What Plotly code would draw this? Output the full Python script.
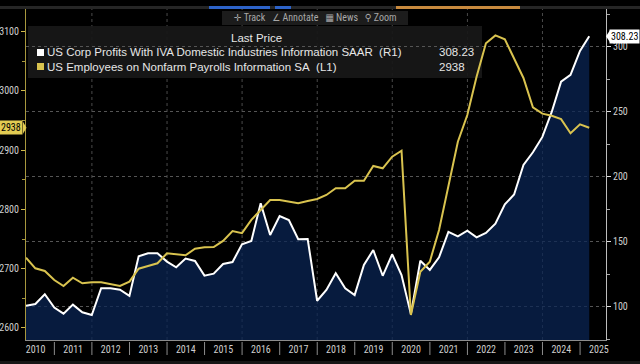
import plotly.graph_objects as go

# ---------------- data (quarter-end values, Q1 2010 .. Q1 2025) ----------------
profits = [101.0, 102.3, 109.8, 99.5, 94.9, 101.8, 95.9, 93.8,
           114.4, 114.4, 113.3, 108.5, 139.0, 141.3, 141.3, 134.9,
           130.5, 137.2, 135.4, 124.1, 125.6, 133.1, 134.6, 148.2,
           150.8, 179.8, 155.4, 170.0, 166.9, 152.1, 152.3, 104.8,
           113.1, 125.9, 114.4, 109.2, 132.3, 143.8, 124.0, 140.5,
           124.6, 94.5, 135.6, 128.5, 138.2, 157.8, 154.3, 158.7,
           153.5, 157.0, 164.1, 179.0, 186.5, 209.2, 219.0, 230.8,
           250.0, 273.3, 278.5, 297.0, 308.23]
employees = [2718.7, 2700.7, 2696.2, 2681.0, 2670.9, 2684.9, 2675.4, 2677.1,
             2677.1, 2674.3, 2670.9, 2678.2, 2700.0, 2704.6, 2709.2, 2726.0,
             2724.4, 2722.7, 2733.9, 2736.2, 2736.5, 2747.0, 2763.7, 2760.0,
             2782.5, 2799.2, 2816.0, 2816.0, 2813.2, 2810.5, 2814.4, 2817.7,
             2824.5, 2835.8, 2835.8, 2848.6, 2848.6, 2873.4, 2869.5, 2889.1,
             2899.2, 2621.9, 2695.0, 2711.9, 2765.4, 2838.5, 2914.4, 2959.5,
             3024.1, 3080.5, 3093.8, 3087.3, 3055.0, 3022.0, 2972.5, 2961.8,
             2958.3, 2952.5, 2928.6, 2943.8, 2938.0]
quarter_ends = ["03-31", "06-30", "09-30", "12-31"]
dates = [f"{y}-{md}" for y in range(2010, 2026) for md in quarter_ends][:len(profits)]
year_starts = [f"{y}-01-01" for y in range(2011, 2026)]
grid_years = [f"{y}-01-01" for y in range(2012, 2025, 2)]

profit_name = "US Corp Profits With IVA Domestic Industries Information SAAR"
emp_name = "US Employees on Nonfarm Payrolls Information SA"
profit_last = "308.23"
emp_last = "2938"

# ---------------- styling ----------------
YELLOW = "#d9c34f"
NARROW = "Liberation Sans Narrow, Roboto Condensed, DejaVu Sans Condensed, Liberation Sans, sans-serif"
REG = "Liberation Sans, Arial, sans-serif"
L, R, T, B, W, H = 26, 34, 9, 24, 640, 364
PW, PH = W - L - R, H - T - B
LRANGE = [2579.7, 3138.4]
RRANGE = [74.6, 329.2]


def px_x(x):
    return (x - L) / PW


def px_y(y):
    return (H - B - y) / PH


fig = go.Figure()
fig.add_trace(go.Scatter(x=dates, y=profits, yaxis="y", mode="lines",
                         line=dict(color="#ffffff", width=2),
                         fill="tozeroy", fillcolor="rgba(10,36,84,0.74)",
                         hoverinfo="skip"))
fig.add_trace(go.Scatter(x=dates, y=employees, yaxis="y2", mode="lines",
                         line=dict(color=YELLOW, width=2), hoverinfo="skip"))

shapes = []
# vertical dotted grid every two years
for d in grid_years:
    shapes.append(dict(type="line", xref="x", yref="paper", x0=d, x1=d,
                       y0=0, y1=1, line=dict(color="#4a4a4a", width=1, dash="dot"), layer="between"))
# year separators under the axis
for d in year_starts:
    shapes.append(dict(type="line", xref="x", yref="paper", x0=d, x1=d,
                       y0=px_y(342), y1=px_y(355), line=dict(color="#8c8c8c", width=1)))
# legend box
shapes.append(dict(type="rect", xref="paper", yref="paper", x0=px_x(28), x1=px_x(482),
                   y0=px_y(78), y1=px_y(26), fillcolor="rgba(24,24,24,0.93)",
                   line=dict(width=0), layer="between"))
# legend squares
shapes.append(dict(type="rect", xref="paper", yref="paper", x0=px_x(37), x1=px_x(44),
                   y0=px_y(56), y1=px_y(49), fillcolor="#ffffff", line=dict(width=0)))
shapes.append(dict(type="rect", xref="paper", yref="paper", x0=px_x(37), x1=px_x(44),
                   y0=px_y(70), y1=px_y(63), fillcolor=YELLOW, line=dict(width=0)))
# toolbar
shapes.append(dict(type="rect", xref="paper", yref="paper", x0=px_x(222), x1=px_x(408),
                   y0=px_y(25), y1=px_y(11), fillcolor="#1c1c1c", line=dict(width=0)))
# top status bar
shapes.append(dict(type="line", xref="paper", yref="paper", x0=px_x(0), x1=px_x(640),
                   y0=px_y(7.5), y1=px_y(7.5), line=dict(color="#262626", width=3)))
for x0, x1, c in [(209, 270, "#2d63c8"), (275, 291, "#2d63c8"), (396, 520, "#c98a3e")]:
    shapes.append(dict(type="line", xref="paper", yref="paper", x0=px_x(x0), x1=px_x(x1),
                       y0=px_y(7.5), y1=px_y(7.5), line=dict(color=c, width=3)))
# bottom strip
shapes.append(dict(type="rect", xref="paper", yref="paper", x0=px_x(0), x1=px_x(640),
                   y0=px_y(364), y1=px_y(361), fillcolor="#161616", line=dict(width=0)))

# last-value flag pointers
ly = H - B - (float(emp_last) - LRANGE[0]) / (LRANGE[1] - LRANGE[0]) * PH
shapes.append(dict(type="path", xref="paper", yref="paper",
                   path=f"M {px_x(23)} {px_y(ly-6)} L {px_x(26.5)} {px_y(ly)} L {px_x(23)} {px_y(ly+6)} Z",
                   fillcolor="#e2cb52", line=dict(width=0)))
ry = H - B - (float(profit_last) - RRANGE[0]) / (RRANGE[1] - RRANGE[0]) * PH
shapes.append(dict(type="path", xref="paper", yref="paper",
                   path=f"M {px_x(610)} {px_y(ry-6)} L {px_x(606)} {px_y(ry)} L {px_x(610)} {px_y(ry+6)} Z",
                   fillcolor="#ffffff", line=dict(width=0)))

ann = []
tf = dict(family=REG, size=11.5, color="#e6e6e6")
ann.append(dict(text="Last Price", x=px_x(256), y=px_y(38), xref="paper", yref="paper",
                xanchor="center", yanchor="middle", showarrow=False, font=tf))
ann.append(dict(text=profit_name + "\u00a0\u00a0(R1)", x=px_x(45), y=px_y(52.5), xref="paper", yref="paper",
                xanchor="left", yanchor="middle", showarrow=False, font=tf))
ann.append(dict(text=profit_last, x=px_x(437), y=px_y(52.5), xref="paper", yref="paper",
                xanchor="left", yanchor="middle", showarrow=False, font=tf))
ann.append(dict(text=emp_name + "\u00a0\u00a0(L1)", x=px_x(45), y=px_y(66.5), xref="paper", yref="paper",
                xanchor="left", yanchor="middle", showarrow=False, font=tf))
ann.append(dict(text=emp_last, x=px_x(437), y=px_y(66.5), xref="paper", yref="paper",
                xanchor="left", yanchor="middle", showarrow=False, font=tf))
ann.append(dict(text="\u271b Track\u00a0\u00a0\u00a0\u2220 Annotate\u00a0\u00a0\u00a0\u25a6 News\u00a0\u00a0\u00a0\u26b2 Zoom",
                x=px_x(315), y=px_y(17.5), xref="paper", yref="paper", xanchor="center", yanchor="middle",
                showarrow=False, font=dict(family=NARROW, size=10, color="#a8a8a8")))
ann.append(dict(text=emp_last, x=px_x(23), y=float(emp_last), xref="paper", yref="y2",
                xanchor="right", yanchor="middle", showarrow=False, bgcolor="#e2cb52",
                borderpad=1, font=dict(family=NARROW, size=10, color="#000000")))
ann.append(dict(text=profit_last, x=px_x(609), y=float(profit_last), xref="paper", yref="y",
                xanchor="left", yanchor="middle", showarrow=False, bgcolor="#ffffff",
                borderpad=1, font=dict(family=NARROW, size=10, color="#000000")))

tickfont = dict(family=NARROW, size=10, color="#cfcfcf")
fig.update_layout(
    template="none",
    width=W, height=H, margin=dict(l=L, r=R, t=T, b=B, autoexpand=False),
    paper_bgcolor="#000000", plot_bgcolor="#000000", showlegend=False,
    shapes=shapes, annotations=ann,
    xaxis=dict(type="date", range=["2010-03-31", "2025-09-10"], showgrid=False, zeroline=False,
               automargin=False, showline=True, linecolor="#8c8c8c", linewidth=1,
               ticks="", dtick="M12", tick0="2010-01-01", ticklabelmode="period", tickformat="%Y",
               tickfont=tickfont),
    yaxis=dict(side="right", range=RRANGE, tick0=0, dtick=50, showgrid=True, gridcolor="#555555",
               griddash="dot", gridwidth=1, zeroline=False, showline=True, linecolor="#bdbdbd",
               automargin=False, ticks="outside", ticklen=4, tickcolor="#dddddd",
               minor=dict(dtick=25, ticks="outside", ticklen=3, tickcolor="#aaaaaa", showgrid=False),
               tickfont=tickfont),
    yaxis2=dict(overlaying="y", side="left", range=LRANGE, tick0=0, dtick=100, showgrid=False,
                automargin=False, zeroline=False, showline=True, linecolor="#a8983e",
                ticks="outside", ticklen=4, tickcolor="#d0b94c",
                minor=dict(dtick=50, ticks="outside", ticklen=3, tickcolor="#a8983e", showgrid=False),
                tickfont=tickfont),
)

fig.write_html("out.html", config={"displayModeBar": False},
               post_script="document.body.style.margin='0';")
